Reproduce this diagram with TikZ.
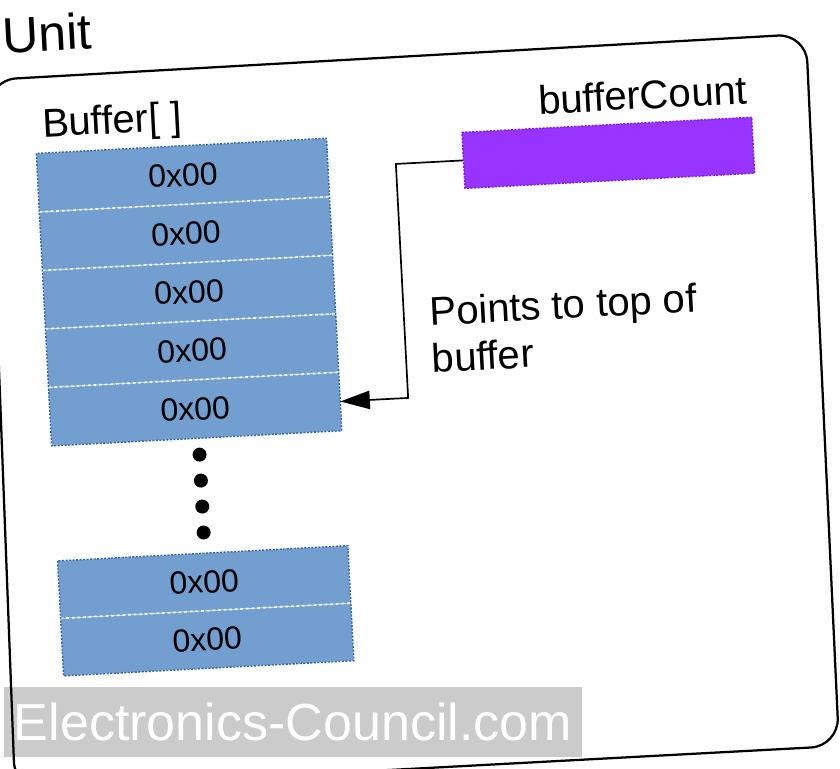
\documentclass[tikz,border=0pt]{standalone}
\usepackage{fontspec}
\setmainfont{Liberation Sans}
\usetikzlibrary{arrows.meta,positioning}
\definecolor{cellblue}{HTML}{729FCF}
\definecolor{cellline}{HTML}{3465A4}
\definecolor{countviolet}{HTML}{9933FF}
\definecolor{countline}{HTML}{7A1FE0}
\definecolor{markgray}{HTML}{CBCBCB}

\begin{document}
\begin{tikzpicture}[x=0.025cm, y=-0.025cm,
    every node/.style={inner sep=0pt, font=\fontsize{28.5}{33.4}\selectfont},
    cell/.style={rectangle, fill=cellblue, minimum width=7.25cm,
        minimum height=1.45cm, font=\fontsize{22.8}{26}\selectfont},
    lowcell/.style={cell, minimum height=1.425cm},
    divider/.style={white, line width=1.2pt, dash pattern=on 2pt off 2pt},
    outline/.style={cellline, line width=1pt, dash pattern=on 1.5pt off 1pt},
    dotnode/.style={circle, fill=black, minimum size=0.35cm},
    ptr/.style={-{Triangle[length=21pt, width=13pt]}, line width=1.2pt},
]
\useasboundingbox (0,0) rectangle (840,768);
\clip (0,0) rectangle (840,768);

% Watermark
\node[fill=markgray, minimum width=14.45cm, minimum height=1.725cm, text=white,
    font=\fontsize{37}{40}\selectfont] (mark) at (293,722) {Electronics-Council.com};

% Unit frame
\draw[line width=1.6pt, rounded corners=20pt] (-12,80) -- (806,34) -- (839,746) -- (15,790) -- cycle;

\begin{scope}[rotate around={3:(420,400)}, transform shape]

% Labels
\node[anchor=base west, font=\fontsize{35.6}{40}\selectfont] (unit) at (22,32) {Unit};
\node[anchor=base west] (buflabel) at (57,118) {Buffer[ ]};
\node[anchor=base east] (countlabel) at (763,121) {bufferCount};

% Buffer, upper part
\node[cell] (b1) at (195,163) {0x00};
\node[cell, below=0pt of b1] (b2) {0x00};
\node[cell, below=0pt of b2] (b3) {0x00};
\node[cell, below=0pt of b3] (b4) {0x00};
\node[cell, below=0pt of b4] (b5) {0x00};
\foreach \i/\j in {b1/b2, b2/b3, b3/b4, b4/b5}
    \draw[divider] (\i.south west) -- (\i.south east);
\draw[outline] (b1.north west) rectangle (b5.south east);

% Dots
\foreach \k/\y in {1/443, 2/469, 3/495, 4/521}
    \node[dotnode] (dot\k) at (197,\y) {};

% Buffer, lower part
\node[lowcell] (c1) at (195,570.5) {0x00};
\node[lowcell, below=0pt of c1] (c2) {0x00};
\draw[divider] (c1.south west) -- (c1.south east);
\draw[outline] (c1.north west) rectangle (c2.south east);

% bufferCount
\node[rectangle, fill=countviolet, draw=countline, line width=1pt,
    dash pattern=on 1.5pt off 1pt, minimum width=7.25cm, minimum height=1.4cm]
    (countbox) at (621,163) {};

% Pointer
\draw[ptr] (countbox.west) -- ++(-67,0) |- (b5.east);
\node[anchor=north west, align=left] (note) at (434,297) {Points to top of\\buffer};

\end{scope}
\end{tikzpicture}
\end{document}
